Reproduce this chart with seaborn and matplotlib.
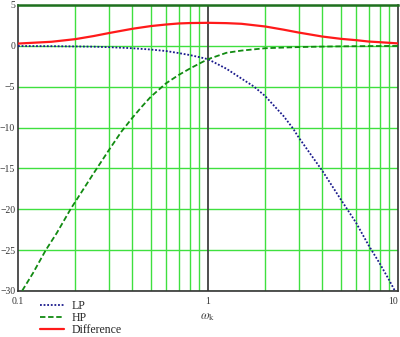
import numpy as np
import pandas as pd
import matplotlib
matplotlib.use("Agg")
import matplotlib.pyplot as plt
import seaborn as sns

# ---- data (omega_k, dB) ----
lp_w = [0.1, 0.15, 0.2, 0.25, 0.3, 0.4, 0.5, 0.6, 0.7, 0.8, 0.9, 1.0,
        1.25, 1.5, 1.75, 2.0, 2.5, 2.8, 3.0, 3.5, 4.0, 5.0, 6.0, 7.0, 8.0, 9.0, 10.0]
lp_db = [-0.02, -0.04, -0.07, -0.10, -0.16, -0.29, -0.45, -0.63, -0.88, -1.12, -1.38, -1.63,
         -2.80, -4.00, -5.00, -6.15, -8.60, -10.1, -11.2, -13.4, -15.3, -18.8, -21.6, -24.4,
         -26.6, -28.7, -30.7]

hp_w = [0.1, 0.12, 0.14, 0.16, 0.19, 0.2, 0.25, 0.3, 0.35, 0.4, 0.45, 0.5, 0.6, 0.7,
        0.8, 0.9, 1.0, 1.25, 1.5, 2.0, 3.0, 4.0, 5.0, 7.0, 10.0]
hp_db = [-30.8, -27.8, -25.0, -22.9, -19.9, -19.1, -15.6, -12.8, -10.5, -8.8, -7.4, -6.23,
         -4.6, -3.57, -2.80, -2.17, -1.63, -0.85, -0.58, -0.29, -0.15, -0.09, -0.06, -0.03, -0.01]

diff_w = [0.1, 0.15, 0.2, 0.25, 0.3, 0.4, 0.5, 0.6, 0.7, 0.8, 1.0, 1.25, 1.5, 2.0, 2.5,
          3.0, 4.0, 5.0, 6.0, 7.0, 8.0, 10.0]
diff_db = [0.28, 0.50, 0.82, 1.20, 1.56, 2.09, 2.42, 2.61, 2.74, 2.79, 2.82, 2.78, 2.70,
           2.37, 1.98, 1.63, 1.14, 0.86, 0.70, 0.53, 0.45, 0.30]

x_ticks = [0.1, 1, 10]
x_ticklabels = ["0.1", "1", "10"]
y_ticks = [5, 0, -5, -10, -15, -20, -25, -30]
y_ticklabels = ["5", "0", "\u22125", "\u221210", "\u221215", "\u221220", "\u221225", "\u221230"]
series_names = ["LP", "HP", "Difference"]

# ---- style ----
sns.set_style("white")
plt.rcParams["font.family"] = ["Liberation Serif", "DejaVu Serif"]
plt.rcParams["mathtext.fontset"] = "stix"

fig = plt.figure(figsize=(4.0, 3.37), dpi=100)
ax = fig.add_axes([18 / 400, 1 - 291 / 337, 380 / 400, 286 / 337])

ax.set_xscale("log")
ax.set_xlim(0.1, 10)
ax.set_ylim(-30, 5)

grid_col = "#3fe03f"
minor = [0.2, 0.3, 0.4, 0.5, 0.6, 0.7, 0.8, 0.9, 2, 3, 4, 5, 6, 7, 8, 9]
ax.set_xticks(x_ticks)
ax.set_xticklabels(x_ticklabels)
ax.set_xticks(minor, minor=True)
ax.set_xticklabels([], minor=True)
ax.set_yticks(y_ticks)
ax.set_yticklabels(y_ticklabels)
ax.grid(False)
ax.grid(True, which="minor", axis="x", color=grid_col, lw=1.0)
ax.grid(True, which="major", axis="y", color=grid_col, lw=1.0)
ax.set_axisbelow(True)
ax.tick_params(which="both", length=0, labelsize=7, colors="#333333", pad=2)
ax.tick_params(axis="x", pad=4)
xlabels = ax.get_xticklabels()
xlabels[-1].set_horizontalalignment("right")
xlabels[0].set_horizontalalignment("center")

ax.axvline(1.0, color="#404040", lw=1.3, zorder=1.5)

lp_df = pd.DataFrame({"w": lp_w, "dB": lp_db})
hp_df = pd.DataFrame({"w": hp_w, "dB": hp_db})
df_df = pd.DataFrame({"w": diff_w, "dB": diff_db})

sns.lineplot(data=lp_df, x="w", y="dB", ax=ax, color="#1a1a8c", linestyle=(0, (1, 1)),
             lw=1.3, label=series_names[0], zorder=3)
sns.lineplot(data=hp_df, x="w", y="dB", ax=ax, color="#118a11", linestyle=(0, (3, 1.5)),
             lw=1.3, label=series_names[1], zorder=3)
sns.lineplot(data=df_df, x="w", y="dB", ax=ax, color="#ff1a1a", linestyle="-",
             lw=1.6, label=series_names[2], zorder=3)

handles, labels = ax.get_legend_handles_labels()
if ax.get_legend() is not None:
    ax.get_legend().remove()

for s in ["left", "bottom", "right"]:
    ax.spines[s].set_color("#333333")
    ax.spines[s].set_linewidth(1.2)
ax.spines["top"].set_color("#1f6f1f")
ax.spines["top"].set_linewidth(1.8)

ax.set_xlabel("")
ax.set_ylabel("")

fig.text(208 / 400, 1 - 317 / 337, r"$\omega_{\mathrm{k}}$", fontsize=9, color="#444444",
         ha="center", va="center")

fig.legend(handles, labels, loc="upper left", bbox_to_anchor=(40 / 400, 1 - 300 / 337),
           frameon=False, fontsize=8.5, handlelength=2.0, handletextpad=0.7,
           labelspacing=0.0, borderpad=0, borderaxespad=0)

fig.savefig("out.png", dpi=100)
